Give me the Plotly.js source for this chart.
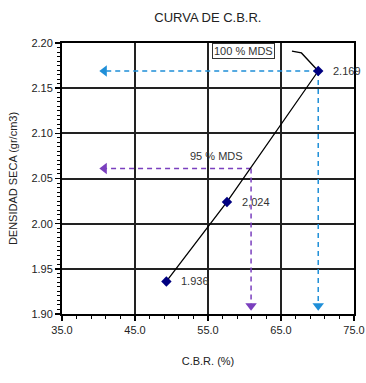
<!DOCTYPE html>
<html><head><meta charset="utf-8">
<script src="https://cdn.plot.ly/plotly-3.0.1.min.js"></script>
<style>html,body{margin:0;padding:0;background:#fff}#c{width:366px;height:383px}</style>
</head><body><div id="c"></div>
<script>
// Data
const cbr = [49.3, 57.6, 70.1];
const dens = [1.936, 2.024, 2.169];
const pointLabels = ['1.936', '2,024', '2.169'];
const mdsLabels = ['100 % MDS', '95 % MDS'];
const mdsDens = [2.169, 2.061];
const mdsCbr = [70.1, 60.9];
const arrowEndX = 40.8;
const arrowEndY = 1.909;
const xTicks = [35, 45, 55, 65, 75];
const xTickText = ['35.0', '45.0', '55.0', '65.0', '75.0'];
const yTicks = [1.90, 1.95, 2.00, 2.05, 2.10, 2.15, 2.20];
const yTickText = ['1.90', '1.95', '2.00', '2.05', '2.10', '2.15', '2.20'];
// label anchor positions (data units)
const label100Pos = [59.9, 2.191];
const label95Pos = [56.2, 2.075];
const leader = {x: [66.5, 67.8, 70.1], y: [2.191, 2.189, 2.169]};

const FONT = 'Liberation Sans Narrow, Arial Narrow, Liberation Sans, Arial, sans-serif';
const blue = '#1f8fd8', purple = '#7a3fbe';
const colors = [blue, purple];

const traces = [];
for (let i = 0; i < 2; i++) {
  traces.push({x: [mdsCbr[i], arrowEndX], y: [mdsDens[i], mdsDens[i]], mode: 'lines',
    line: {color: colors[i], width: 1.5, dash: '5px,4px'}, hoverinfo: 'skip', showlegend: false});
  traces.push({x: [mdsCbr[i], mdsCbr[i]], y: [mdsDens[i], arrowEndY], mode: 'lines',
    line: {color: colors[i], width: 1.5, dash: '5px,4px'}, hoverinfo: 'skip', showlegend: false});
  traces.push({x: [arrowEndX], y: [mdsDens[i]], mode: 'markers',
    marker: {symbol: 'triangle-left', size: 10, color: colors[i]}, hoverinfo: 'skip', showlegend: false});
  traces.push({x: [mdsCbr[i]], y: [arrowEndY], mode: 'markers',
    marker: {symbol: 'triangle-down', size: 10, color: colors[i]}, hoverinfo: 'skip', showlegend: false});
}
traces.push({x: leader.x, y: leader.y, mode: 'lines', line: {color: '#000', width: 1.3},
  hoverinfo: 'skip', showlegend: false});
traces.push({x: cbr, y: dens, mode: 'lines+markers', line: {color: '#000', width: 1.3},
  marker: {symbol: 'diamond', size: 8, color: '#000080'}, showlegend: false});

const annotations = cbr.map((x, i) => ({x: x, y: dens[i], text: pointLabels[i], showarrow: false,
  xanchor: 'left', xshift: 13, font: {family: FONT, size: 11, color: '#333'}}));
annotations.push({x: label100Pos[0], y: label100Pos[1], text: mdsLabels[0], showarrow: false,
  bordercolor: '#333', borderwidth: 1, borderpad: 1, bgcolor: '#fff',
  font: {family: FONT, size: 11, color: '#333'}});
annotations.push({x: label95Pos[0], y: label95Pos[1], text: mdsLabels[1], showarrow: false,
  font: {family: FONT, size: 11, color: '#333'}});

const layout = {
  width: 366, height: 383,
  margin: {l: 62, r: 12, t: 43, b: 69},
  paper_bgcolor: '#fff', plot_bgcolor: '#fff',
  title: {text: 'CURVA DE C.B.R.', x: 0.568, xanchor: 'center', y: 0.955, yanchor: 'middle',
    font: {family: FONT, size: 13, color: '#222'}},
  xaxis: {range: [35, 75], tickvals: xTicks, ticktext: xTickText, showgrid: true, gridcolor: '#222', gridwidth: 2,
    zeroline: false, showline: true, linecolor: '#000', linewidth: 2, mirror: true,
    ticks: 'outside', ticklen: 5, tickcolor: '#000', tickwidth: 1.5,
    minor: {dtick: 2, tick0: 35, ticks: 'outside', ticklen: 3, tickcolor: '#000', tickwidth: 1, showgrid: false},
    tickfont: {family: FONT, size: 11, color: '#222'},
    title: {text: 'C.B.R. (%)', standoff: 22, font: {family: FONT, size: 11, color: '#222'}}},
  yaxis: {range: [1.90, 2.20], tickvals: yTicks, ticktext: yTickText, showgrid: true, gridcolor: '#222', gridwidth: 2,
    zeroline: false, showline: true, linecolor: '#000', linewidth: 2, mirror: true,
    ticks: 'outside', ticklen: 5, tickcolor: '#000', tickwidth: 1.5,
    minor: {dtick: 0.005, tick0: 1.90, ticks: 'outside', ticklen: 3, tickcolor: '#000', tickwidth: 1, showgrid: false},
    tickfont: {family: FONT, size: 11, color: '#222'},
    title: {text: 'DENSIDAD SECA (gr/cm3)', standoff: 12, font: {family: FONT, size: 11, color: '#222'}}},
  annotations: annotations
};
Plotly.newPlot('c', traces, layout, {displayModeBar: false, staticPlot: true});
</script></body></html>
